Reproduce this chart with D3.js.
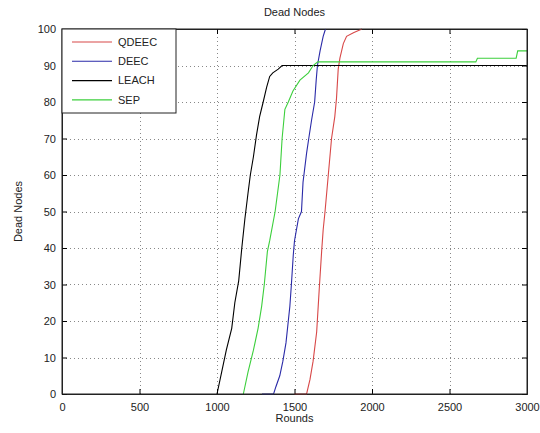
<!DOCTYPE html>
<html>
<head>
<meta charset="utf-8">
<script src="https://cdn.jsdelivr.net/npm/d3@7"></script>
<style>
  body { margin: 0; background: #fff; }
  svg { font-family: "Liberation Sans", Arial, sans-serif; }
  .grid line { stroke: #888; stroke-dasharray: 1,3; shape-rendering: crispEdges; }
  .axis text { font-size: 11px; fill: #222; }
</style>
</head>
<body>
<div id="plot"></div>
<script>
// data: [round, dead nodes]
const qdeec = [[1500,0],[1578,0],[1600,4],[1620,9],[1643,17],[1660,29],[1675,39],[1685,45],[1697,50],[1718,60],[1739,70],[1760,76],[1771,81],[1782,89],[1793,92],[1815,96],[1836,98],[1880,99],[1935,100]]
const deec = [[1290,0],[1365,0],[1380,2],[1405,5],[1425,9],[1445,14],[1460,20],[1470,24],[1480,30],[1492,38],[1500,42],[1525,48],[1545,50],[1555,58],[1578,66],[1592,70],[1610,75],[1630,80],[1640,86],[1648,90],[1665,94],[1685,98],[1700,100]]
const leach = [[1000,0],[1030,6],[1060,12],[1095,18],[1115,25],[1140,31],[1160,40],[1180,48],[1200,55],[1215,60],[1235,65],[1255,71],[1275,76],[1298,80],[1320,84],[1340,87],[1360,88],[1395,89],[1420,90],[3000,90]]
const sep = [[1170,0],[1200,6],[1235,12],[1265,18],[1288,24],[1305,30],[1325,39],[1340,42],[1375,50],[1406,60],[1420,70],[1438,78],[1460,80],[1490,83],[1535,86],[1590,88],[1620,90],[1650,91],[2670,91],[2680,92],[2740,92],[2930,92],[2940,94],[3000,94]]
const seriesNames = ['QDEEC', 'DEEC', 'LEACH', 'SEP']
const seriesData = [qdeec, deec, leach, sep]
const colors = ['#d84848', '#2a2aa8', '#000000', '#3ccf3c']
const xTicks = [0, 500, 1000, 1500, 2000, 2500, 3000]
const yTicks = [0, 10, 20, 30, 40, 50, 60, 70, 80, 90, 100]

const width = 540, height = 433
const margin = ({top: 29, right: 13, bottom: 39, left: 62})

const svg = d3.select('#plot').append('svg')
  .attr('width', width)
  .attr('height', height)

const x = d3.scaleLinear()
  .domain([0, 3000])
  .range([margin.left, width - margin.right])
const y = d3.scaleLinear()
  .domain([0, 100])
  .range([height - margin.bottom, margin.top])

//grid
const grid = svg.append('g').classed('grid', true)
grid.selectAll('.gx')
  .data(xTicks.slice(1, -1))
  .enter().append('line')
  .attr('x1', d => Math.round(x(d)) + 0.5).attr('x2', d => Math.round(x(d)) + 0.5)
  .attr('y1', y(0)).attr('y2', y(100))
grid.selectAll('.gy')
  .data(yTicks.slice(1, -1))
  .enter().append('line')
  .attr('x1', x(0)).attr('x2', x(3000))
  .attr('y1', d => Math.round(y(d)) + 0.5).attr('y2', d => Math.round(y(d)) + 0.5)

//axes, ticks inward like matlab
svg.append('g')
  .classed('axis', true)
  .attr('transform', `translate(0,${y(0)})`)
  .call(d3.axisBottom(x).tickValues(xTicks).tickFormat(d3.format('d')).tickSize(-5).tickPadding(9))
svg.append('g')
  .classed('axis', true)
  .attr('transform', `translate(${x(0)},0)`)
  .call(d3.axisLeft(y).tickValues(yTicks).tickSize(-5).tickPadding(6))
svg.append('g')
  .attr('transform', `translate(0,${y(100)})`)
  .call(d3.axisTop(x).tickValues(xTicks).tickSize(-5).tickFormat(''))
svg.append('g')
  .attr('transform', `translate(${x(3000)},0)`)
  .call(d3.axisRight(y).tickValues(yTicks).tickSize(-5).tickFormat(''))
svg.selectAll('.domain').attr('stroke', '#222')

//lines
const line = d3.line()
  .x(d => x(d[0]))
  .y(d => y(d[1]))
svg.append('g')
  .selectAll('path')
  .data(seriesData)
  .enter().append('path')
  .attr('fill', 'none')
  .attr('stroke', (d, i) => colors[i])
  .attr('stroke-width', 1.1)
  .attr('d', line)

//box on top
svg.append('rect')
  .attr('x', x(0)).attr('y', y(100))
  .attr('width', x(3000) - x(0)).attr('height', y(0) - y(100))
  .attr('fill', 'none').attr('stroke', '#222')

//legend
const legend = svg.append('g').attr('transform', `translate(${x(0)},${y(100)})`)
legend.append('rect')
  .attr('width', 114).attr('height', 84)
  .attr('fill', '#fff').attr('stroke', '#222')
const items = legend.selectAll('.item')
  .data(seriesNames)
  .enter().append('g')
  .attr('transform', (d, i) => `translate(0,${13 + i * 19.3})`)
items.append('line')
  .attr('x1', 10).attr('x2', 50)
  .attr('stroke', (d, i) => colors[i])
  .attr('stroke-width', 1.1)
items.append('text')
  .attr('x', 56).attr('dy', '0.35em')
  .attr('font-size', 11).attr('fill', '#222')
  .text(d => d)

//labels
svg.append('text')
  .attr('x', (x(0) + x(3000)) / 2).attr('y', 16)
  .attr('text-anchor', 'middle').attr('font-size', 11).attr('fill', '#222')
  .text('Dead Nodes')
svg.append('text')
  .attr('x', (x(0) + x(3000)) / 2).attr('y', 422)
  .attr('text-anchor', 'middle').attr('font-size', 11).attr('fill', '#222')
  .text('Rounds')
svg.append('text')
  .attr('transform', `translate(22,${(y(0) + y(100)) / 2}) rotate(-90)`)
  .attr('text-anchor', 'middle').attr('font-size', 11).attr('fill', '#222')
  .text('Dead Nodes')
</script>
</body>
</html>
